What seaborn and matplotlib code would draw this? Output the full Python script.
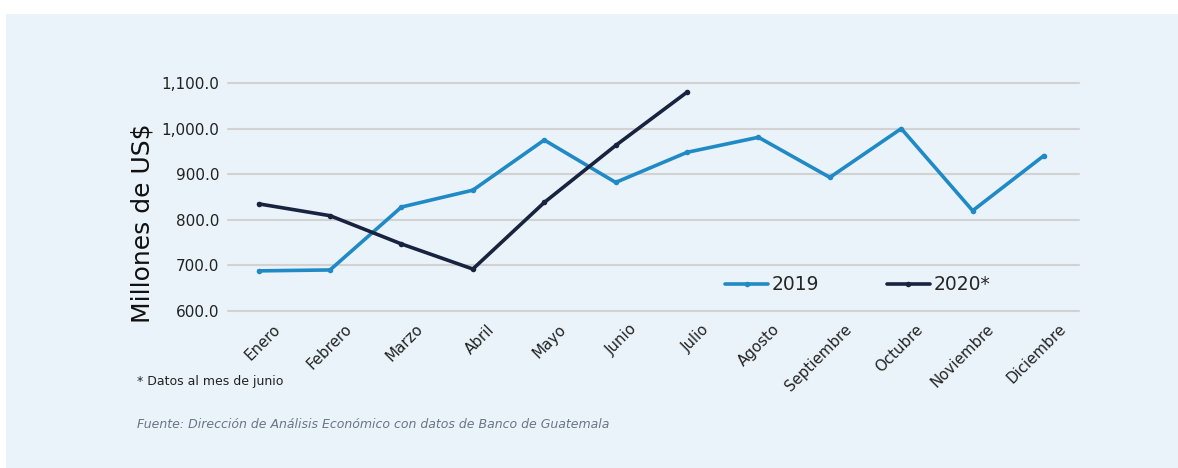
import pandas as pd
import seaborn as sns
import matplotlib.pyplot as plt
import matplotlib.transforms as mtransforms
from matplotlib.patches import Rectangle

meses = ['Enero', 'Febrero', 'Marzo', 'Abril', 'Mayo', 'Junio', 'Julio',
         'Agosto', 'Septiembre', 'Octubre', 'Noviembre', 'Diciembre']
valores_2019 = [688, 690, 828, 865, 975, 882, 948, 981, 893, 1000, 820, 941]
valores_2020 = [835, 809, 747, 692, 838, 963, 1080]
series = ['2019', '2020*']
colores = ['#1F8AC6', '#17233F']
y_ticks = [600, 700, 800, 900, 1000, 1100]

BG = '#EAF3F9'

sns.set_theme(style='white')
plt.rcParams['font.family'] = ['DejaVu Sans']

data = pd.concat([
    pd.DataFrame({'mes': range(len(valores_2019)), 'valor': valores_2019, 'serie': series[0]}),
    pd.DataFrame({'mes': range(len(valores_2020)), 'valor': valores_2020, 'serie': series[1]}),
])

fig = plt.figure(figsize=(11.78, 4.68), dpi=100)
fig.patch.set_facecolor('white')
# light blue panel behind everything
fig.patches.append(Rectangle((6 / 1178, 0), 1 - 6 / 1178, 1 - 14 / 468,
                             transform=fig.transFigure, facecolor=BG,
                             edgecolor='none', zorder=-10))

ax = fig.add_axes([0.1935, 0.3355, 0.7225, 0.4871])
ax.set_facecolor('none')

sns.lineplot(data=data, x='mes', y='valor', hue='serie', palette=colores,
             linewidth=2.6, marker='o', markersize=4, markeredgewidth=0,
             ax=ax)

ax.set_xlim(-0.43, 11.49)
ax.set_ylim(600, 1100)
ax.set_yticks(y_ticks)
ax.set_yticklabels([f'{v:,.1f}' for v in y_ticks], fontsize=11, color='#222222')
ax.set_xticks(range(len(meses)))
ax.set_xticklabels(meses, rotation=45, ha='right', rotation_mode='anchor',
                   fontsize=10.8, color='#222222')
ax.tick_params(axis='x', pad=12, length=0)
ax.tick_params(axis='y', pad=6, length=0)
# nudge month labels right/up to sit like the original
shift = mtransforms.ScaledTranslation(0.14, 0.06, fig.dpi_scale_trans)
for lbl in ax.get_xticklabels():
    lbl.set_transform(lbl.get_transform() + shift)
ax.grid(axis='y', color='#D2D2D2', linewidth=1.5)
for gl in ax.get_ygridlines():
    gl.set_clip_on(False)
ax.set_axisbelow(True)
for s in ax.spines.values():
    s.set_visible(False)

ax.set_xlabel('')
ax.set_ylabel('Millones de US$', fontsize=18, color='#111111')
ax.yaxis.set_label_coords(-0.086, 0.386)

ax.legend(loc='center', bbox_to_anchor=(0.74, 0.115), ncol=2, frameon=False,
          fontsize=13.5, handlelength=2.3, handletextpad=0.2, columnspacing=3.6,
          borderaxespad=0)

fig.text(137 / 1178, 1 - 381 / 468, '* Datos al mes de junio', fontsize=9,
         color='#222222', va='center')
fig.text(137 / 1178, 1 - 424 / 468,
         'Fuente: Dirección de Análisis Económico con datos de Banco de Guatemala',
         fontsize=9, style='italic', color='#6B7685', va='center')

fig.savefig('out.png', dpi=100, facecolor=fig.get_facecolor())
